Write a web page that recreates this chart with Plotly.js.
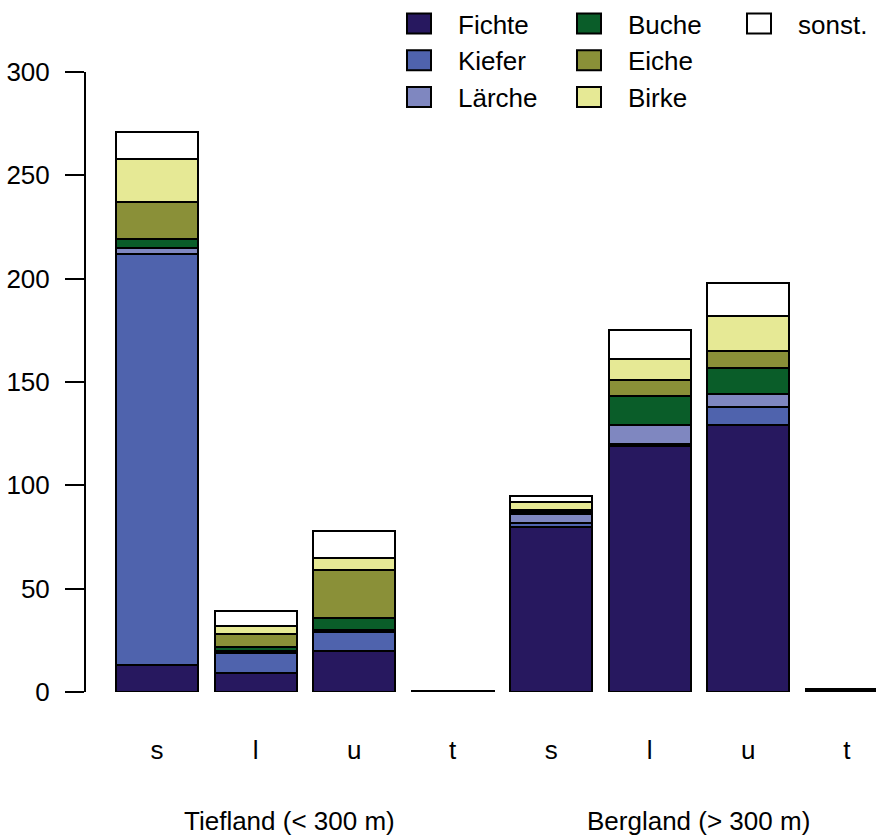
<!DOCTYPE html>
<html><head><meta charset="utf-8">
<script src="https://cdn.plot.ly/plotly-3.0.1.min.js"></script>
<style>body{margin:0;background:#fff}#chart{width:876px;height:838px}</style>
</head><body><div id="chart"></div>
<script>
// ---- data ----
const categories = ['s','l','u','t','s','l','u','t'];
const positions = [0,1,2,3,4,5,6,7];
const species = ['Fichte','Kiefer','Lärche','Buche','Eiche','Birke','sonst.'];
const fichte  = [13,  9, 20, 0.3, 80, 119, 129, 0.5];
const kiefer  = [199, 10,  9, 0,  2,   1,   9, 0];
const laerche = [3,   1,  1, 0,  4,   9,   6, 0];
const buche   = [4,   2,  6, 0,  1,  14,  13, 0.5];
const eiche   = [18,  6, 23, 0,  1,   8,   8, 0];
const birke   = [21,  4,  6, 0,  4,  10,  17, 0];
const sonst   = [13,  7, 13, 0,  3,  14,  16, 0.5];
const groups = ['Tiefland (< 300 m)', 'Bergland (> 300 m)'];
const groupPos = [1.34, 5.5];
const yTicks = [0, 50, 100, 150, 200, 250, 300];

// ---- style ----
const colors = ['#27185F','#4F63AD','#7F87C0','#0A5D29','#8A9038','#E6E995','#FFFFFF'];
const legendOf = ['legend','legend','legend','legend2','legend2','legend2','legend3'];
const FONT = 'Liberation Sans, Arial, sans-serif';
const FS = 26;
const values = [fichte, kiefer, laerche, buche, eiche, birke, sonst];

const traces = species.map((name, i) => ({
  type: 'bar', name: name, x: positions, y: values[i],
  width: 0.833, legend: legendOf[i], cliponaxis: false,
  marker: {color: colors[i], line: {color: '#000', width: 2}},
  hoverinfo: 'skip'
}));

const W = 876, H = 838;
const legendCommon = (px) => ({
  xref: 'container', yref: 'container', x: px / W, y: 1 + 3 / H, xanchor: 'left', yanchor: 'top',
  orientation: 'v', itemwidth: 68, font: {family: FONT, size: FS, color: '#000'},
  bgcolor: 'rgba(0,0,0,0)', traceorder: 'normal', itemclick: false
});

const layout = {
  width: W, height: H,
  margin: {l: 86, r: 0, t: 72, b: 146, autoexpand: false},
  barmode: 'stack',
  paper_bgcolor: '#fff', plot_bgcolor: '#fff',
  font: {family: FONT, size: FS, color: '#000'},
  showlegend: true,
  legend: legendCommon(380),
  legend2: legendCommon(550),
  legend3: legendCommon(720),
  xaxis: {
    type: 'linear', autorange: false,
    range: [-0.7215, 7.297], tickmode: 'array', tickvals: positions, ticktext: categories,
    ticks: '', showline: false, showgrid: false, zeroline: false, automargin: false,
    ticklabelstandoff: 40, tickfont: {family: FONT, size: FS, color: '#000'}
  },
  yaxis: {
    type: 'linear', autorange: false,
    range: [0, 300], tickmode: 'array', tickvals: yTicks, ticks: 'outside', ticklen: 19, tickwidth: 2,
    tickcolor: '#000', showline: true, linewidth: 2, linecolor: '#000', automargin: false,
    showgrid: false, zeroline: false, ticklabelstandoff: 10,
    tickfont: {family: FONT, size: FS, color: '#000'}
  },
  annotations: groups.map((g, i) => ({
    text: g, x: groupPos[i], xref: 'x', y: -0.208, yref: 'paper',
    xanchor: 'center', yanchor: 'middle', showarrow: false,
    font: {family: FONT, size: FS, color: '#000'}
  }))
};

Plotly.newPlot('chart', traces, layout, {displayModeBar: false, staticPlot: true}).then(() => {
  document.querySelectorAll('path.legendbar, .legendpoints path').forEach(p => {
    p.setAttribute('d', 'M12,10H-12V-10H12Z');
  });
});
</script>
</body></html>
